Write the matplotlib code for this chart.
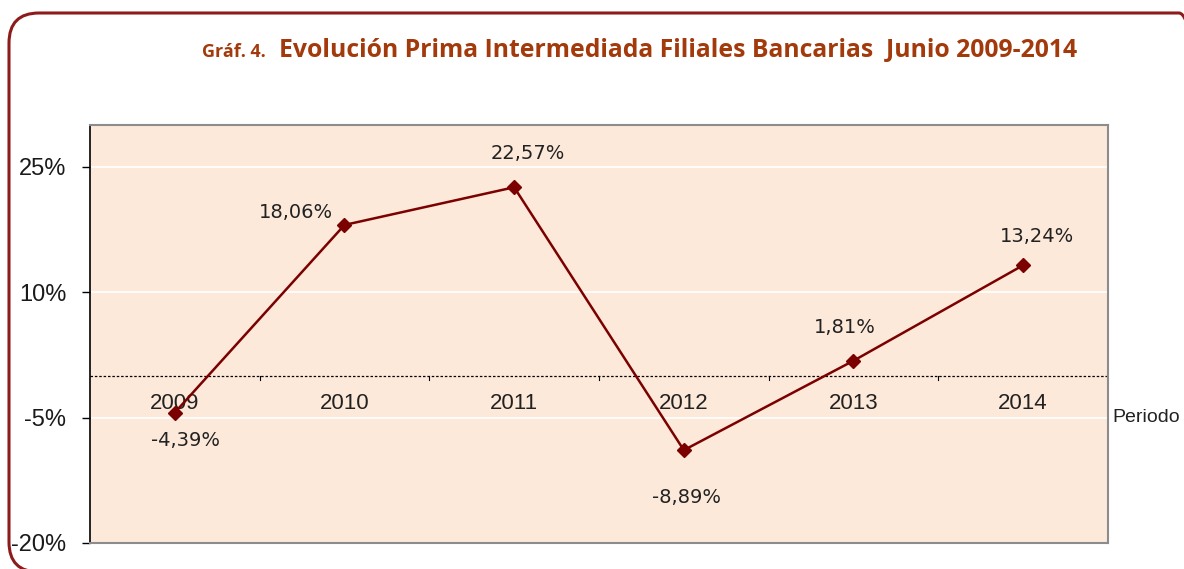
import matplotlib
matplotlib.use("Agg")
import matplotlib.pyplot as plt
from matplotlib.patches import FancyBboxPatch

# datos
periodos = ["2009", "2010", "2011", "2012", "2013", "2014"]
prima = [-4.39, 18.06, 22.57, -8.89, 1.81, 13.24]
etiquetas = ["-4,39%", "18,06%", "22,57%", "-8,89%", "1,81%", "13,24%"]
yticks = [-20, -5, 10, 25]

LINEA = "#7B0000"
FONDO = "#FCE9DA"
TITULO = "#A33A0C"

fig = plt.figure(figsize=(11.84, 5.69), dpi=100)
ax = fig.add_axes([0.076, 0.0457, 0.8598, 0.7343])
ax.set_facecolor(FONDO)

xs = [i + 0.5 for i in range(len(periodos))]
ax.plot(xs, prima, color=LINEA, lw=1.8, marker="D", ms=7.5, zorder=4)

ax.set_xlim(0, 6)
ax.set_ylim(-20, 30)
ax.set_yticks(yticks)
ax.set_yticklabels([f"{v}%" for v in yticks], fontsize=17, family="Liberation Sans",
                   color="#1a1a1a")
ax.tick_params(axis="y", length=6, width=1, pad=11)
ax.set_xticks([])
for v in yticks[1:]:
    ax.axhline(v, color="white", lw=1.2, zorder=1)

# linea de cero con marcas
ax.axhline(0, color="black", lw=0.9, ls=(0, (2, 1.5)), zorder=2)
for b in range(1, 6):
    ax.plot([b, b], [0, -0.5], color="black", lw=0.8, zorder=2)

for x, p in zip(xs, periodos):
    ax.annotate(p, (x, 0), xytext=(0, -20), textcoords="offset points",
                ha="center", va="center", fontsize=16, family="Liberation Sans",
                color="#222222", zorder=3)

# etiquetas de datos
offsets = [(8, -20), (-35, 9), (10, 24), (2, -34), (-6, 24), (10, 21)]
for x, y, t, o in zip(xs, prima, etiquetas, offsets):
    ax.annotate(t, (x, y), xytext=o, textcoords="offset points",
                ha="center", va="center", fontsize=14, color="#222222", zorder=5)

ax.text(1.004, 0.3, "Periodo", transform=ax.transAxes, ha="left", va="center",
        fontsize=14, family="Liberation Sans", color="#222222")

for s in ["top", "right", "bottom"]:
    ax.spines[s].set_color("#8C8C8C")
    ax.spines[s].set_linewidth(1.5)
ax.spines["left"].set_color("black")
ax.spines["left"].set_linewidth(1.2)

# marco redondeado
marco = FancyBboxPatch((9, -3), 1200, 559, boxstyle="round,pad=0,rounding_size=30",
                       transform=None, fill=False, ec="#8E1B1B", lw=2.2)
fig.patches.append(marco)

fig.text(0.171, 0.900, "Gráf. 4.", fontsize=13, fontweight="bold",
         family="Open Sans", color=TITULO, ha="left", va="baseline")
fig.text(0.236, 0.900, "Evolución Prima Intermediada Filiales Bancarias  Junio 2009-2014",
         fontsize=17.8, fontweight="bold", family="Open Sans", color=TITULO,
         ha="left", va="baseline")

fig.savefig("out.png", dpi=100)
